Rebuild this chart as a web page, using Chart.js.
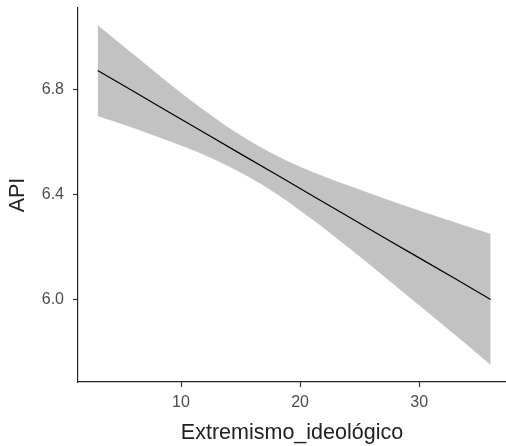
<!DOCTYPE html>
<html>
<head>
<meta charset="utf-8">
<script src="https://cdn.jsdelivr.net/npm/chart.js@4/dist/chart.umd.min.js"></script>
<style>
  html, body { margin: 0; padding: 0; background: #ffffff; overflow: hidden; }
  #wrap { width: 506px; height: 446px; }
</style>
</head>
<body>
<div id="wrap"><canvas id="c" width="506" height="446"></canvas></div>
<script>
// Data
const xValues = [3, 6, 9, 12, 15, 18, 21, 24, 27, 30, 33, 36];
const fitValues = [6.874, 6.795, 6.715, 6.636, 6.556, 6.477, 6.397, 6.318, 6.238, 6.159, 6.080, 6.000];
const upperValues = [7.047, 6.936, 6.825, 6.721, 6.627, 6.550, 6.488, 6.436, 6.387, 6.340, 6.295, 6.250];
const lowerValues = [6.701, 6.655, 6.605, 6.551, 6.485, 6.404, 6.306, 6.200, 6.090, 5.978, 5.865, 5.750];
const xTicks = [10, 20, 30];
const yTicks = [6.0, 6.4, 6.8];
const xTitle = 'Extremismo_ideológico';
const yTitle = 'API';

const toPts = (ys) => xValues.map((x, i) => ({ x: x, y: ys[i] }));
const FONT = '"Liberation Sans", Arial, Helvetica, sans-serif';

new Chart(document.getElementById('c'), {
  type: 'line',
  data: {
    datasets: [
      { data: toPts(upperValues), borderWidth: 0, borderColor: 'rgba(0,0,0,0)', backgroundColor: '#c2c2c2', fill: '+1', pointRadius: 0, tension: 0.4, order: 2 },
      { data: toPts(lowerValues), borderWidth: 0, borderColor: 'rgba(0,0,0,0)', backgroundColor: '#c2c2c2', fill: false, pointRadius: 0, tension: 0.4, order: 2 },
      { data: toPts(fitValues), borderWidth: 1.2, borderColor: '#000000', fill: false, pointRadius: 0, tension: 0, order: 1 }
    ]
  },
  options: {
    responsive: false,
    devicePixelRatio: 1,
    animation: false,
    events: [],
    layout: { padding: { top: 8, right: 0, bottom: 0, left: 0 } },
    plugins: { legend: { display: false }, tooltip: { enabled: false } },
    scales: {
      x: {
        type: 'linear',
        min: 1.35,
        max: 37.29,
        afterBuildTicks: (s) => { s.ticks = xTicks.map(v => ({ value: v })); },
        afterFit: (s) => { s.height = 64; s.paddingLeft = 0; s.paddingRight = 0; },
        grid: { drawOnChartArea: false, drawTicks: true, tickLength: 5, tickColor: '#333333', tickWidth: 1.2 },
        border: { display: true, color: '#222222', width: 1.2 },
        ticks: { color: '#4d4d4d', font: { family: FONT, size: 16 }, padding: 6, maxRotation: 0, callback: (v) => String(v) },
        title: { display: true, text: xTitle, color: '#222222', font: { family: FONT, size: 21.5 }, padding: { top: 0, bottom: 0 } }
      },
      y: {
        type: 'linear',
        min: 5.685,
        max: 7.113,
        afterBuildTicks: (s) => { s.ticks = yTicks.map(v => ({ value: v })); },
        afterFit: (s) => { s.width = 78; s.paddingTop = 0; s.paddingBottom = 0; },
        grid: { drawOnChartArea: false, drawTicks: true, tickLength: 5, tickColor: '#333333', tickWidth: 1.2 },
        border: { display: true, color: '#222222', width: 1.2 },
        ticks: { color: '#4d4d4d', font: { family: FONT, size: 16 }, padding: 9, callback: (v) => Number(v).toFixed(1) },
        title: { display: true, text: yTitle, color: '#222222', font: { family: FONT, size: 21.5 }, padding: { top: 5, bottom: 0 } }
      }
    }
  }
});
</script>
</body>
</html>
